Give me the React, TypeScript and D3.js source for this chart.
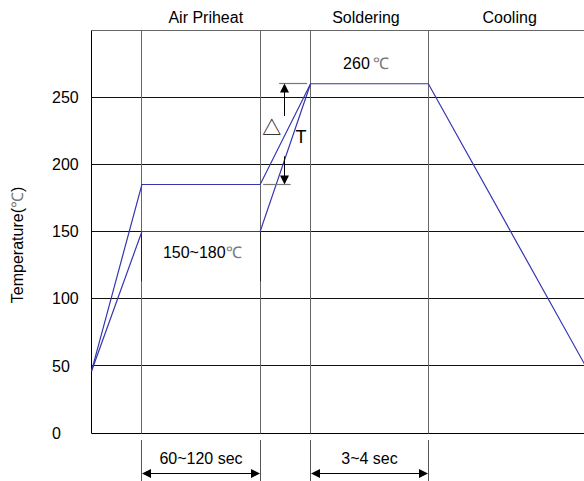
import React from "react";
import * as d3 from "d3";

const W = 584;
const H = 481;

// temperature axis
const yTicks = [0, 50, 100, 150, 200, 250];
const yMax = 300;

// phase boundaries (arbitrary time units)
const phaseBounds = [10.1, 33.8, 43.9, 67.5];
const phaseLabels = ["Air Priheat", "Soldering", "Cooling"];
const phaseLabelCenters = [22.9, 55.0, 83.8];
const tMax = 100;

// reflow profiles [time, temperature]
const upperProfile: [number, number][] = [
  [0, 46], [10.1, 185], [33.8, 185], [43.9, 260], [67.5, 260], [99.6, 46],
];
const lowerProfile: [number, number][] = [
  [0, 46], [10.1, 150], [33.8, 150], [43.9, 260],
];

const peakTemp = 260;
const preheatLow = 150;
const preheatHigh = 185;
const durationLabels = ["60~120 sec", "3~4 sec"];

const FONT = "'Liberation Sans', Arial, Helvetica, sans-serif";
const BLUE = "#3535b0";

const crisp = (v: number) => Math.floor(v) + 0.5;

export default function App() {
  const x = d3.scaleLinear().domain([0, tMax]).range([91.5, 590.5]);
  const y = d3.scaleLinear().domain([0, yMax]).range([433, 30]);
  const line = d3
    .line<[number, number]>()
    .x((d) => x(d[0]))
    .y((d) => y(d[1]));

  const x0 = crisp(x(0));
  const xR = x(tMax);
  const yTop = crisp(y(yMax));
  const yBot = crisp(y(0));

  const arrowHead = (tipX: number, tipY: number, dir: "l" | "r" | "u" | "d") => {
    const L = 9, h = 4.5;
    let pts: number[][] = [];
    if (dir === "l") pts = [[tipX, tipY], [tipX + L, tipY - h], [tipX + L, tipY + h]];
    if (dir === "r") pts = [[tipX, tipY], [tipX - L, tipY - h], [tipX - L, tipY + h]];
    if (dir === "u") pts = [[tipX, tipY], [tipX - h, tipY + L], [tipX + h, tipY + L]];
    if (dir === "d") pts = [[tipX, tipY], [tipX - h, tipY - L], [tipX + h, tipY - L]];
    return <polygon points={pts.map((p) => p.join(",")).join(" ")} fill="#000" />;
  };

  const arrowY = 473.5;
  const spans = [
    [phaseBounds[0], phaseBounds[1]],
    [phaseBounds[2], phaseBounds[3]],
  ];

  const dtX = crisp(x(38.7));
  const yPeak = crisp(y(peakTemp));
  const yHigh = crisp(y(preheatHigh));

  return (
    <svg width={W} height={H} style={{ position: "absolute", left: 0, top: 0, background: "#fff" }} fontFamily={FONT}>
      <rect width={W} height={H} fill="#fff" />
      {/* top border */}
      <line x1={x0} x2={xR} y1={yTop} y2={yTop} stroke="#666" />
      {/* horizontal grid */}
      {yTicks.map((t) => (
        <line key={t} x1={x0} x2={xR} y1={crisp(y(t))} y2={crisp(y(t))} stroke={t === 0 ? "#000" : "#111"} />
      ))}
      {/* vertical phase lines */}
      {phaseBounds.map((b) => (
        <line key={b} x1={crisp(x(b))} x2={crisp(x(b))} y1={yTop} y2={yBot} stroke="#666" />
      ))}
      {/* darker marks at preheat window */}
      {[phaseBounds[0], phaseBounds[1]].map((b) => (
        <line key={"m" + b} x1={crisp(x(b))} x2={crisp(x(b))} y1={crisp(y(preheatLow))} y2={y(113)} stroke="#222" />
      ))}
      {/* left axis */}
      <line x1={x0} x2={x0} y1={yTop} y2={yBot} stroke="#000" />
      {/* y tick labels */}
      {yTicks.map((t) => (
        <text key={"l" + t} x={52} y={y(t)} dy="0.36em" fontSize={16} fill="#000">
          {t}
        </text>
      ))}
      <text transform={`translate(23,${y(140)}) rotate(-90)`} textAnchor="middle" fontSize={16} fill="#000">
        Temperature(<tspan fill="#777">℃</tspan>)
      </text>
      {/* phase labels */}
      {phaseLabels.map((l, i) => (
        <text key={l} x={x(phaseLabelCenters[i])} y={23} textAnchor="middle" fontSize={16} fill="#000">
          {l}
        </text>
      ))}
      {/* profiles */}
      <path d={line(upperProfile) || ""} fill="none" stroke={BLUE} strokeWidth={1.2} />
      <path d={line(lowerProfile) || ""} fill="none" stroke={BLUE} strokeWidth={1.2} />
      {/* texts */}
      <text x={x(55)} y={69} textAnchor="middle" fontSize={16} fill="#000">
        {peakTemp}<tspan fill="#777" dx="3">℃</tspan>
      </text>
      <text x={x(22.2)} y={y(130)} textAnchor="middle" fontSize={16} fill="#000">
        150~180<tspan fill="#777">℃</tspan>
      </text>
      {/* delta T annotation */}
      <line x1={x(37.6)} x2={x(43.2)} y1={yPeak} y2={yPeak} stroke="#777" strokeWidth={1.2} />
      <line x1={dtX} x2={dtX} y1={yPeak + 8} y2={y(236)} stroke="#000" />
      {arrowHead(dtX, yPeak, "u")}
      <line x1={x(34.4)} x2={x(39.9)} y1={yHigh} y2={yHigh} stroke="#777" strokeWidth={1.2} />
      <line x1={dtX} x2={dtX} y1={y(206)} y2={yHigh - 8} stroke="#000" />
      {arrowHead(dtX, yHigh, "d")}
      <text x={x(36.1)} y={y(227)} dy="0.36em" textAnchor="middle" fontSize={19} fill="#000" fontFamily="'Noto Sans CJK SC', sans-serif">
        △
      </text>
      <text x={x(42)} y={y(221)} dy="0.36em" textAnchor="middle" fontSize={18} fill="#000">
        T
      </text>
      {/* duration spans */}
      {spans.map(([a, b], i) => {
        const xa = crisp(x(a));
        const xb = crisp(x(b));
        return (
          <g key={i}>
            <line x1={xa} x2={xa} y1={440} y2={H} stroke="#555" />
            <line x1={xb} x2={xb} y1={440} y2={H} stroke="#555" />
            <line x1={xa + 8} x2={xb - 8} y1={arrowY} y2={arrowY} stroke="#000" />
            {arrowHead(xa + 0.5, arrowY, "l")}
            {arrowHead(xb - 0.5, arrowY, "r")}
            <text x={(xa + xb) / 2} y={464} textAnchor="middle" fontSize={16} fill="#000">
              {durationLabels[i]}
            </text>
          </g>
        );
      })}
    </svg>
  );
}
